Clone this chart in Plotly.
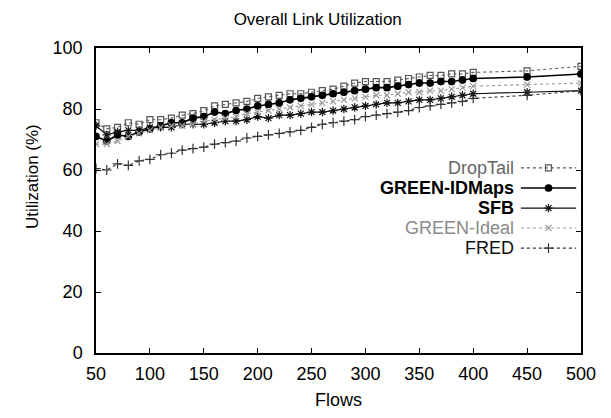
import plotly.graph_objects as go

# Number of flows sampled
flows = [50, 60, 70, 80, 90, 100, 110, 120, 130, 140, 150, 160, 170, 180, 190,
         200, 210, 220, 230, 240, 250, 260, 270, 280, 290, 300, 310, 320, 330,
         340, 350, 360, 370, 380, 390, 400, 450, 500]

# Link utilization (%) per scheme
droptail = [75.5, 73.5, 74, 75.5, 75, 76.5, 76.5, 77, 78, 78.5, 79.5, 81, 81.5,
            82, 82.5, 83.5, 84, 84.5, 85, 85, 85.5, 86, 86.5, 87.5, 88.5, 89, 89,
            89, 89.5, 90, 90.5, 91, 91, 91.5, 91.5, 92, 92.5, 94]
green_idmaps = [71, 69.5, 71.5, 71, 72.5, 73.5, 74.5, 75.5, 75.5, 77, 77.5, 79,
                78.5, 79.5, 80, 81, 81.5, 82, 83, 83.5, 84, 84.5, 85, 85.5, 86,
                86.5, 87, 87, 87.5, 88, 88.5, 88.5, 89, 89, 89.5, 90, 90.5, 91.5]
sfb = [74.5, 71.5, 72.5, 73, 73, 74, 74, 74, 75, 75, 75, 75.5, 76, 76, 76.5,
       77.5, 77, 78, 78, 78.5, 79, 79, 79.5, 80, 80.5, 81, 81.5, 82, 82, 82.5,
       83, 83, 83.5, 84, 84.5, 85, 85.5, 86]
green_ideal = [68.5, 68.5, 69.5, 71, 72, 73, 74, 74.5, 74.5, 75, 76, 76.5, 77,
               77.5, 78.5, 79, 79.5, 80, 80.5, 81, 81.5, 82, 82.5, 83, 83.5, 84,
               84.5, 84.5, 85, 85.5, 85.5, 86, 86, 86.5, 87, 87.5, 88, 88.5]
fred = [60.5, 60, 62, 61.5, 63, 63.5, 65, 65.5, 66.5, 67, 67.5, 68.5, 69, 69.5,
        70.5, 71, 71.5, 72, 72.5, 73, 74, 75, 75.5, 76, 76.5, 77.5, 78, 78.5, 79,
        79.5, 80.5, 81, 81.5, 82, 82.5, 83.5, 84.5, 86]

x_ticks = [50, 100, 150, 200, 250, 300, 350, 400, 450, 500]
y_ticks = [0, 20, 40, 60, 80, 100]

FONT = "Liberation Sans, Arial, sans-serif"

series = [
    dict(name="DropTail", y=droptail, color="#555555", dash="dot", width=1.1,
         symbol="square-open", size=6, text_color="#666666", bold=False),
    dict(name="GREEN-IDMaps", y=green_idmaps, color="#000000", dash="solid", width=1.6,
         symbol="circle", size=6.5, text_color="#000000", bold=True),
    dict(name="SFB", y=sfb, color="#111111", dash="solid", width=1.2,
         symbol="asterisk-open", size=7, text_color="#000000", bold=True),
    dict(name="GREEN-Ideal", y=green_ideal, color="#999999", dash="dot", width=1.1,
         symbol="x-thin-open", size=6, text_color="#8a8a8a", bold=False),
    dict(name="FRED", y=fred, color="#333333", dash="dot", width=1.1,
         symbol="cross-thin-open", size=7, text_color="#111111", bold=False),
]

fig = go.Figure()

for s in series:
    fig.add_trace(go.Scatter(
        x=flows, y=s["y"], mode="lines+markers", name=s["name"],
        line=dict(color=s["color"], dash=s["dash"], width=s["width"]),
        marker=dict(symbol=s["symbol"], size=s["size"], color=s["color"],
                    line=dict(color=s["color"], width=1.2)),
        showlegend=False,
    ))

# Key: right-aligned labels with the line sample to their right
row_y = [0.607, 0.541, 0.475, 0.410, 0.344]
for s, ry in zip(series, row_y):
    fig.add_trace(go.Scatter(
        x=[0.876, 0.99], y=[ry, ry], xaxis="x2", yaxis="y2", mode="lines",
        line=dict(color=s["color"], dash=s["dash"], width=s["width"]),
        showlegend=False, hoverinfo="skip",
    ))
    fig.add_trace(go.Scatter(
        x=[0.933], y=[ry], xaxis="x2", yaxis="y2", mode="markers",
        marker=dict(symbol=s["symbol"], size=s["size"], color=s["color"],
                    line=dict(color=s["color"], width=1.2)),
        showlegend=False, hoverinfo="skip",
    ))
    label = f"<b>{s['name']}</b>" if s["bold"] else s["name"]
    fig.add_annotation(
        x=0.866, y=ry, xref="paper", yref="paper", text=label,
        showarrow=False, xanchor="right", yanchor="middle",
        font=dict(family=FONT, size=18, color=s["text_color"]),
    )

axis_common = dict(
    showline=True, linecolor="black", linewidth=1.5, mirror="ticks",
    ticks="inside", ticklen=5, tickwidth=1, tickcolor="black",
    showgrid=False, zeroline=False,
    tickfont=dict(family=FONT, size=18, color="black"),
)

fig.update_layout(
    width=611, height=418,
    margin=dict(l=96, r=30, t=48, b=65),
    paper_bgcolor="white", plot_bgcolor="white",
    title=dict(text="Overall Link Utilization", x=0.52, xanchor="center",
               y=0.955, yanchor="middle",
               font=dict(family=FONT, size=17, color="black")),
    xaxis=dict(range=[50, 500], tickvals=x_ticks, ticklabelstandoff=4,
               **axis_common,
               title=dict(text="Flows", standoff=10,
                          font=dict(family=FONT, size=18, color="black"))),
    yaxis=dict(range=[0, 100], tickvals=y_ticks, ticklabelstandoff=8,
               **axis_common),
    xaxis2=dict(range=[0, 1], overlaying="x", visible=False),
    yaxis2=dict(range=[0, 1], overlaying="y", visible=False),
)

fig.add_annotation(
    x=-0.132, y=0.58, xref="paper", yref="paper", text="Utilization (%)",
    showarrow=False, textangle=-90, xanchor="center", yanchor="middle",
    font=dict(family=FONT, size=17, color="black"),
)

fig.write_html("out.html")
